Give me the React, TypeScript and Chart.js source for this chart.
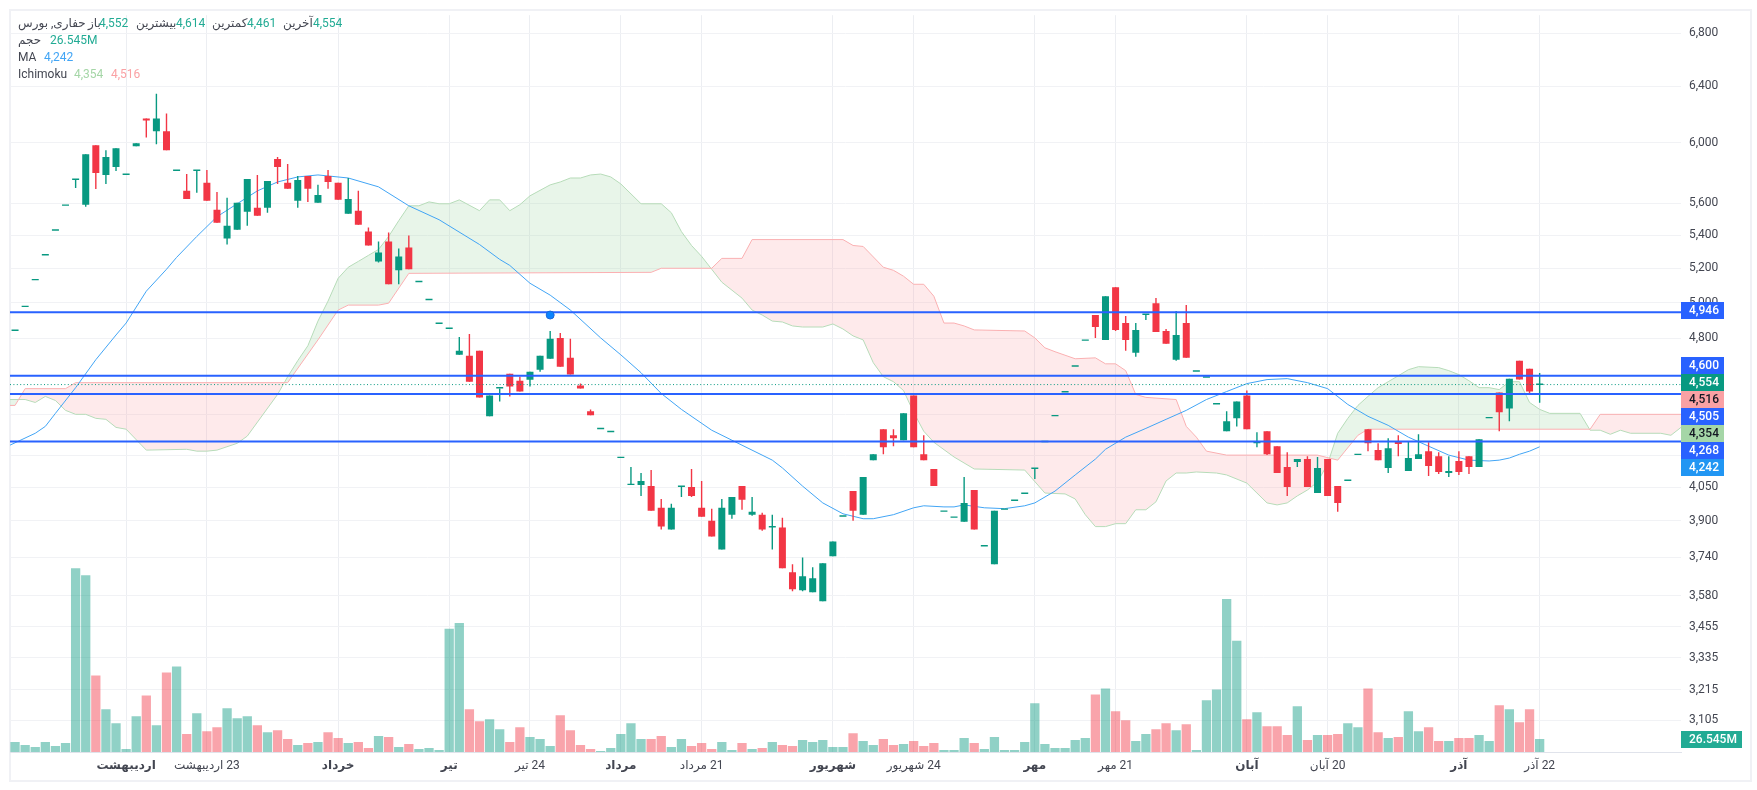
import { useEffect, useRef } from 'react';
import { Chart, registerables } from 'chart.js';

Chart.register(...registerables);

const FONT = 'Roboto, "DejaVu Sans", sans-serif';
const UP = '#089981';
const DOWN = '#f23645';
const UP_VOL = 'rgba(8,153,129,0.45)';
const DOWN_VOL = 'rgba(242,54,69,0.45)';

// daily candles, left to right
const opens = [
  4841, 4975, 5129, 5277, 5428, 5584, 5751, 5591, 5983, 5784,
  5836, 5784, 5976, 6169, 6079, 6079, 5810, 5680, 5810, 5732,
  5559, 5379, 5434, 5546, 5572, 5572, 5890, 5732, 5616, 5777,
  5603, 5777, 5732, 5534, 5553, 5422, 5241, 5361, 5188, 5325,
  5118, 5014, 4880, 4852, 4712, 4706, 4733, 4392, 4534, 4611,
  4574, 4579, 4632, 4690, 4803, 4695, 4549, 4417, 4328, 4313,
  4188, 4061, 4061, 4056, 3957, 3860, 4052, 4052, 3957, 3899,
  3773, 3926, 4056, 3926, 3926, 3869, 3869, 3676, 3602, 3594,
  3557, 3744, 3917, 4033, 3926, 4178, 4328, 4298, 4274, 4498,
  4206, 4136, 3939, 3912, 3895, 4038, 3786, 3710, 3948, 3988,
  4020, 4136, 4264, 4392, 4513, 4648, 4787, 4930, 4792, 5089,
  4885, 4722, 4930, 4997, 4841, 4685, 4885, 4621, 4590, 4452,
  4318, 4382, 4498, 4259, 4318, 4245, 4145, 4169, 4183, 4024,
  4183, 4056, 4080, 4202, 4328, 4226, 4141, 4269, 4127, 4183,
  4221, 4197, 4117, 4174, 4197, 4145, 4382, 4513, 4432, 4680,
  4637, 4552,
];
const closes = [
  4841, 4975, 5129, 5277, 5428, 5584, 5751, 5923, 5797, 5903,
  5963, 5784, 5997, 6155, 6169, 5950, 5810, 5628, 5810, 5616,
  5477, 5459, 5603, 5758, 5521, 5745, 5836, 5693, 5751, 5693,
  5654, 5738, 5622, 5628, 5465, 5337, 5295, 5106, 5271, 5194,
  5118, 5014, 4880, 4852, 4733, 4569, 4488, 4498, 4534, 4544,
  4518, 4621, 4706, 4798, 4648, 4606, 4534, 4397, 4328, 4313,
  4188, 4061, 4080, 3944, 3873, 3957, 4052, 4011, 3917, 3830,
  3957, 4006, 3993, 3939, 3860, 3869, 3693, 3606, 3660, 3651,
  3714, 3808, 3917, 3944, 4098, 4206, 4240, 4284, 4407, 4240,
  4178, 4056, 3939, 3912, 3979, 3860, 3786, 3944, 3948, 3988,
  4020, 4136, 4264, 4392, 4513, 4648, 4787, 4863, 5037, 4847,
  4792, 4847, 4930, 4836, 4771, 4819, 4695, 4621, 4590, 4452,
  4367, 4467, 4328, 4259, 4206, 4117, 4052, 4183, 4052, 4141,
  4011, 3979, 4080, 4202, 4259, 4178, 4235, 4255, 4188, 4206,
  4150, 4122, 4127, 4122, 4145, 4279, 4382, 4412, 4585, 4580,
  4518, 4554,
];
const highs = [
  4841, 4975, 5129, 5277, 5428, 5584, 5751, 5923, 5983, 5950,
  5963, 5784, 5997, 6169, 6346, 6204, 5817, 5790, 5810, 5817,
  5673, 5635, 5603, 5758, 5784, 5745, 5903, 5856, 5777, 5777,
  5719, 5817, 5732, 5764, 5680, 5447, 5361, 5416, 5319, 5398,
  5118, 5014, 4880, 4852, 4808, 4825, 4733, 4498, 4534, 4611,
  4595, 4621, 4706, 4841, 4830, 4798, 4559, 4427, 4328, 4313,
  4188, 4145, 4117, 4131, 3997, 3975, 4052, 4136, 4080, 3953,
  3997, 4006, 4056, 4006, 3935, 3926, 3912, 3710, 3739, 3697,
  3714, 3808, 3917, 4033, 4098, 4206, 4328, 4328, 4407, 4498,
  4298, 4136, 3939, 3912, 4098, 4038, 3786, 3944, 3948, 3988,
  4020, 4136, 4264, 4392, 4513, 4648, 4787, 4930, 5037, 5089,
  4924, 4885, 4930, 5026, 4852, 4952, 4986, 4621, 4590, 4452,
  4417, 4467, 4523, 4313, 4318, 4245, 4216, 4183, 4197, 4193,
  4183, 4056, 4080, 4202, 4328, 4259, 4284, 4298, 4269, 4303,
  4264, 4216, 4197, 4221, 4197, 4279, 4382, 4513, 4585, 4680,
  4637, 4614,
];
const lows = [
  4841, 4975, 5129, 5277, 5428, 5584, 5699, 5578, 5692, 5725,
  5810, 5784, 5976, 6037, 5990, 5950, 5810, 5628, 5667, 5616,
  5477, 5343, 5434, 5459, 5521, 5540, 5725, 5693, 5572, 5609,
  5603, 5693, 5622, 5534, 5465, 5337, 5235, 5106, 5106, 5194,
  5118, 5014, 4880, 4852, 4712, 4569, 4488, 4392, 4467, 4493,
  4518, 4544, 4621, 4690, 4648, 4606, 4534, 4397, 4328, 4313,
  4188, 4061, 4011, 3944, 3860, 3860, 4006, 4006, 3917, 3830,
  3773, 3908, 3948, 3921, 3855, 3773, 3693, 3598, 3598, 3594,
  3557, 3744, 3917, 3899, 3926, 4178, 4206, 4245, 4274, 4240,
  4178, 4056, 3939, 3912, 3895, 3860, 3786, 3710, 3948, 3988,
  4020, 4089, 4264, 4392, 4513, 4648, 4787, 4803, 4792, 4841,
  4733, 4701, 4902, 4836, 4771, 4680, 4695, 4621, 4590, 4452,
  4318, 4342, 4328, 4240, 4202, 4117, 4011, 4145, 4052, 4024,
  4011, 3939, 4080, 4202, 4221, 4178, 4117, 4197, 4127, 4183,
  4103, 4112, 4098, 4108, 4112, 4145, 4382, 4318, 4367, 4580,
  4508, 4461,
];
// millions of shares
const volumes = [
  20.4, 14.3, 10.2, 20.4, 12.3, 18.4, 377.8, 363.5, 157.2, 87.8,
  59.2, 6.1, 73.5, 116.4, 55.1, 163.4, 175.6, 36.8, 79.6, 42.9,
  51, 89.8, 69.4, 73.5, 55.1, 40.8, 44.9, 26.5, 14.3, 18.4,
  20.4, 40.8, 28.6, 18.4, 20.4, 8.2, 32.7, 30.6, 10.2, 16.3,
  6.1, 8.2, 4.1, 253.2, 265.4, 87.8, 63.3, 67.4, 47, 20.4,
  51, 30.6, 26.5, 12.3, 75.6, 44.9, 14.3, 6.1, 2, 8.2,
  36.8, 59.2, 26.5, 26.5, 32.7, 10.2, 26.5, 12.3, 18.4, 6.1,
  20.4, 4.1, 18.4, 6.1, 8.2, 20.4, 14.3, 12.3, 24.5, 20.4,
  24.5, 10.2, 10.2, 38.8, 22.5, 14.3, 26.5, 14.3, 16.3, 22.5,
  12.3, 18.4, 4.1, 4.1, 28.6, 18.4, 6.1, 30.6, 4.1, 4.1,
  20.4, 100, 16.3, 8.2, 8.2, 24.5, 28.6, 118.4, 130.7, 83.7,
  65.3, 22.5, 36.8, 47, 59.2, 44.9, 57.2, 4.1, 106.2, 128.6,
  314.5, 228.7, 67.4, 81.7, 53.1, 53.1, 34.7, 93.9, 24.5, 34.7,
  34.7, 36.8, 59.2, 51, 130.7, 40.8, 28.6, 30.6, 83.7, 42.9,
  51, 22.5, 22.5, 28.6, 28.6, 34.7, 22.5, 96, 87.8, 61.3,
  87.8, 26.545,
];

const maIndex = [
  -0.5, 2, 3, 4, 6, 8, 10, 11, 13, 15, 16, 18, 20, 22, 24, 26, 28, 30, 33, 36, 39, 42, 46, 48, 49,
  51, 53, 55, 58, 60, 62, 64, 66, 69, 71, 75, 76, 78, 80, 82, 84, 85, 87, 89, 90, 92, 93, 94, 96, 98,
  100, 101, 103, 105, 107, 108, 110, 112, 114, 116, 118, 120, 122, 124, 126, 128, 130, 132, 134, 136,
  138, 140, 142, 144, 146, 147, 148, 149, 150, 151,
];
const maValues = [
  4250, 4308, 4342, 4407, 4538, 4685, 4819, 4885, 5066, 5194, 5265, 5392, 5515, 5597, 5680, 5738, 5771, 5784, 5764, 5706, 5584, 5496, 5343, 5253, 5217,
  5112, 5043, 4958, 4803, 4711, 4616, 4508, 4427, 4323, 4274, 4178, 4141, 4056, 3979, 3930, 3908, 3908, 3926, 3957, 3966, 3961, 3961, 3970, 3957, 3953,
  3966, 3979, 4033, 4108, 4183, 4230, 4289, 4332, 4377, 4422, 4477, 4518, 4559, 4580, 4585, 4564, 4533, 4452, 4392, 4347,
  4289, 4245, 4202, 4178, 4174, 4178, 4188, 4206, 4221, 4242,
];

const spanAIndex = [
  -0.5, 1, 2, 3, 4, 5, 6, 7, 8, 9, 10, 11, 13, 17, 18, 19, 20, 22, 23, 26, 27, 28, 29, 30, 31, 32, 33, 34, 35, 36,
  37, 38, 39, 40, 41, 42, 43, 44, 46, 47, 48, 49, 50, 51, 53, 54, 55, 56, 57, 58, 59, 60, 62, 64, 65, 66, 67, 68, 69, 70,
  72, 73, 74, 75, 76, 77, 78, 80, 81, 82, 83, 84, 85, 86, 87, 88, 89, 90, 91, 93, 95, 100, 102, 104, 105, 106, 107, 108, 109, 110,
  111, 112, 113, 114, 115, 116, 117, 119, 120, 122, 123, 124, 125, 126, 127, 128, 129, 130, 131, 132, 133, 134, 135, 136, 137, 138, 139, 141, 142, 143,
  144, 145, 146, 147, 148, 149, 150, 151, 152, 155, 156, 157, 158, 159, 160, 163, 164, 165,
];
const spanAValues = [
  4477, 4477, 4462, 4493, 4472, 4422, 4402, 4402, 4382, 4377, 4337, 4328, 4226, 4230, 4221, 4221, 4226, 4259, 4294, 4503, 4595, 4680, 4760, 4896, 5009, 5141, 5206, 5241, 5277, 5313,
  5392, 5490, 5584, 5584, 5609, 5597, 5597, 5622, 5553, 5622, 5622, 5553, 5591, 5648, 5719, 5738, 5764, 5764, 5784, 5790, 5771, 5725, 5597, 5597, 5540, 5422, 5337, 5271, 5194, 5118,
  5026, 4958, 4930, 4896, 4891, 4869, 4863, 4863, 4880, 4852, 4814, 4792, 4669, 4595, 4569, 4523, 4412, 4318, 4264, 4193, 4136, 4131, 4024, 4020, 3997, 3926, 3873, 3873, 3886, 3886,
  3948, 3948, 3984, 4080, 4117, 4117, 4122, 4117, 4108, 4070, 4024, 3979, 3970, 3979, 4011, 4038, 4075, 4160, 4308, 4382, 4447, 4493, 4538, 4569, 4600, 4632, 4648, 4643, 4627, 4606,
  4574, 4538, 4538, 4528, 4569, 4569, 4462, 4427, 4407, 4407, 4323, 4323, 4303, 4323, 4308, 4308, 4298, 4337,
];

const spanBIndex = [
  -0.5, 0, 1, 5, 6, 27, 30, 32, 33, 36, 37, 39, 63, 64, 69, 70, 72, 73, 82, 83, 84, 86, 87, 88, 89, 90, 91, 92, 93, 94,
  95, 100, 101, 102, 103, 105, 107, 108, 109, 110, 111, 112, 115, 116, 117, 118, 120, 129, 131, 133, 134, 156, 157, 165,
];
const spanBValues = [
  4447, 4447, 4533, 4533, 4564, 4564, 4792, 4958, 4986, 4986, 4997, 5170, 5176, 5200, 5200, 5259, 5259, 5373, 5373, 5337, 5331, 5206, 5188, 5153, 5106, 5106, 5037, 4885, 4885, 4869,
  4847, 4841, 4803, 4749, 4728, 4690, 4695, 4663, 4663, 4627, 4503, 4488, 4477, 4342, 4289, 4221, 4202, 4202, 4178, 4298, 4328, 4328, 4402, 4402,
];

const levels = [4946, 4600, 4505, 4268];
const lastPrice = 4554;
const markerIndex = 53;
const markerPrice = 4930;

const priceTicks = [6800, 6400, 6000, 5600, 5400, 5200, 5000, 4800, 4600, 4400, 4200, 4050, 3900, 3740, 3580, 3455, 3335, 3215, 3105];
const xTickIndex = [11, 19, 32, 43, 51, 60, 68, 81, 89, 101, 109, 122, 130, 143, 151];
const xTickLabels = [
  'اردیبهشت', '\u200F23 اردیبهشت', 'خرداد', 'تیر', '\u200F24 تیر', 'مرداد', '\u200F21 مرداد', 'شهریور',
  '\u200F24 شهریور', 'مهر', '\u200F21 مهر', 'آبان', '\u200F20 آبان', 'آذر', '\u200F22 آذر',
];
const monthIndex = [11, 32, 43, 60, 81, 101, 122, 143];

const toPoints = (xs: number[], ys: number[]) => xs.map((x, i) => ({ x, y: ys[i] }));
const X_MIN = -0.5;
const X_MAX = 165;

// header lines and the price pills on the right are painted after the datasets
const overlayPlugin = {
  id: 'overlay',
  afterDraw(chart: any) {
    const ctx = chart.ctx;
    ctx.save();
    ctx.textBaseline = 'middle';
    ctx.textAlign = 'left';
    ctx.font = `12px ${FONT}`;

    const header: [string, number, number, string][] = [
      ['حفاری, بورس', 18, 24, '#434651'],
      ['باز', 88, 24, '#434651'],
      ['4,552', 99, 24, '#22ab94'],
      ['بیشترین', 136, 24, '#434651'],
      ['4,614', 176, 24, '#22ab94'],
      ['کمترین', 212, 24, '#434651'],
      ['4,461', 247, 24, '#22ab94'],
      ['آخرین', 283, 24, '#434651'],
      ['4,554', 313, 24, '#22ab94'],
      ['حجم', 18, 41, '#434651'],
      ['26.545M', 50, 41, '#22ab94'],
      ['MA', 18, 58, '#434651'],
      ['4,242', 44, 58, '#42a5f5'],
      ['Ichimoku', 18, 75, '#434651'],
      ['4,354', 74, 75, '#a5d6a7'],
      ['4,516', 111, 75, '#faa1a4'],
    ];
    header.forEach(([text, x, y, color]) => {
      ctx.fillStyle = color;
      ctx.fillText(text, x, y);
    });

    const pills: [string, number, number, string, string][] = [
      ['4,946', 302, 43, '#2962ff', '#ffffff'],
      ['4,600', 357, 43, '#2962ff', '#ffffff'],
      ['4,554', 374, 43, '#089981', '#ffffff'],
      ['4,516', 391, 43, '#faa1a4', '#131722'],
      ['4,505', 408, 43, '#2962ff', '#ffffff'],
      ['4,354', 425, 43, '#a5d6a7', '#131722'],
      ['4,268', 442, 43, '#2962ff', '#ffffff'],
      ['4,242', 459, 43, '#2196f3', '#ffffff'],
      ['26.545M', 731, 61, '#22ab94', '#ffffff'],
    ];
    ctx.font = `500 12px ${FONT}`;
    pills.forEach(([text, y, w, bg, fg]) => {
      ctx.fillStyle = bg;
      ctx.fillRect(1681, y, w, 17);
      ctx.fillStyle = fg;
      ctx.fillText(text, 1689, y + 8.7);
    });
    ctx.restore();
  },
};

export default function App() {
  const canvasRef = useRef<HTMLCanvasElement>(null);

  useEffect(() => {
    if (!canvasRef.current) return;
    const candleColor = (i: number) => (closes[i] >= opens[i] ? UP : DOWN);

    const chart = new Chart(canvasRef.current, {
      type: 'bar',
      data: {
        datasets: [
          {
            type: 'bar',
            yAxisID: 'yVol',
            order: 8,
            grouped: false,
            barPercentage: 0.92,
            categoryPercentage: 1,
            data: volumes.map((v, i) => ({ x: i, y: v })),
            backgroundColor: volumes.map((_, i) => (closes[i] >= opens[i] ? UP_VOL : DOWN_VOL)),
          },
          {
            type: 'line',
            yAxisID: 'y',
            order: 7,
            data: toPoints(spanAIndex, spanAValues),
            borderColor: '#b7dcb9',
            borderWidth: 1,
            pointRadius: 0,
            tension: 0,
            fill: { target: 2, above: 'rgba(165,214,167,0.25)', below: 'rgba(250,161,164,0.22)' },
          },
          {
            type: 'line',
            yAxisID: 'y',
            order: 6,
            data: toPoints(spanBIndex, spanBValues),
            borderColor: '#fbb0b2',
            borderWidth: 1,
            pointRadius: 0,
            tension: 0,
          },
          {
            type: 'line',
            yAxisID: 'y',
            order: 5,
            data: toPoints(maIndex, maValues),
            borderColor: '#42a5f5',
            borderWidth: 1,
            pointRadius: 0,
            tension: 0,
          },
          {
            type: 'bar',
            yAxisID: 'y',
            order: 4,
            grouped: false,
            maxBarThickness: 1.4,
            data: highs.map((h, i) => ({ x: i, y: [lows[i], h] })),
            backgroundColor: highs.map((_, i) => candleColor(i)),
          },
          {
            type: 'bar',
            yAxisID: 'y',
            order: 3,
            grouped: false,
            maxBarThickness: 7,
            minBarLength: 1.4,
            data: opens.map((o, i) => ({ x: i, y: [o, closes[i]] })),
            backgroundColor: opens.map((_, i) => candleColor(i)),
          },
          ...levels.map((level) => ({
            type: 'line' as const,
            yAxisID: 'y',
            order: 2,
            data: [{ x: X_MIN, y: level }, { x: X_MAX, y: level }],
            borderColor: '#2962ff',
            borderWidth: 2,
            pointRadius: 0,
          })),
          {
            type: 'line',
            yAxisID: 'y',
            order: 2,
            data: [{ x: X_MIN, y: lastPrice }, { x: X_MAX, y: lastPrice }],
            borderColor: UP,
            borderWidth: 1,
            borderDash: [1, 2.4],
            pointRadius: 0,
          },
          {
            type: 'line',
            yAxisID: 'y',
            order: 1,
            data: [{ x: markerIndex, y: markerPrice }],
            showLine: false,
            pointRadius: 4,
            pointBackgroundColor: '#0a84ff',
            pointBorderColor: '#1e66d8',
            pointBorderWidth: 1,
          },
        ],
      } as any,
      options: {
        animation: false,
        responsive: false,
        devicePixelRatio: 1,
        layout: { padding: { left: 10, top: 10, right: 7, bottom: 10 } },
        plugins: {
          legend: { display: false },
          title: { display: false },
          tooltip: { enabled: false },
          filler: { propagate: false },
        },
        scales: {
          x: {
            type: 'linear',
            bounds: 'data',
            min: X_MIN,
            max: X_MAX,
            offset: false,
            grid: { color: '#eceef2', offset: false, drawTicks: false },
            border: { color: '#e0e3eb' },
            afterBuildTicks: (scale: any) => {
              scale.ticks = xTickIndex.map((value) => ({ value }));
            },
            afterFit: (scale: any) => {
              scale.height = 28;
            },
            ticks: {
              autoSkip: false,
              maxRotation: 0,
              minRotation: 0,
              padding: 7,
              color: '#434651',
              font: (c: any) => ({
                family: FONT,
                size: 12,
                weight: monthIndex.includes(c.tick?.value) ? 'bold' : 'normal',
              }),
              callback: (value: any) => xTickLabels[xTickIndex.indexOf(Number(value))] ?? '',
            },
          },
          y: {
            type: 'logarithmic',
            position: 'right',
            bounds: 'data',
            min: 2995,
            max: 6940,
            grid: { color: '#f1f2f5', drawTicks: false },
            border: { display: false },
            afterBuildTicks: (scale: any) => {
              scale.ticks = priceTicks.map((value) => ({ value }));
            },
            afterFit: (scale: any) => {
              scale.width = 69;
            },
            ticks: {
              autoSkip: false,
              padding: 8,
              color: '#434651',
              font: { family: FONT, size: 12 },
              callback: (value: any) => Number(value).toLocaleString('en-US'),
            },
          },
          yVol: {
            type: 'linear',
            display: false,
            min: 0,
            max: 1515,
          },
        },
      } as any,
      plugins: [overlayPlugin],
    });

    return () => {
      chart.destroy();
    };
  }, []);

  return (
    <div style={{ position: 'absolute', left: 0, top: 0, width: 1757, height: 790, overflow: 'hidden', background: '#fff' }}>
      <div style={{ position: 'absolute', left: 9, top: 9, width: 1739, height: 769, border: '2px solid #f0f1f5' }} />
      <canvas ref={canvasRef} width={1757} height={790} style={{ position: 'absolute', left: 0, top: 0, display: 'block' }} />
    </div>
  );
}
